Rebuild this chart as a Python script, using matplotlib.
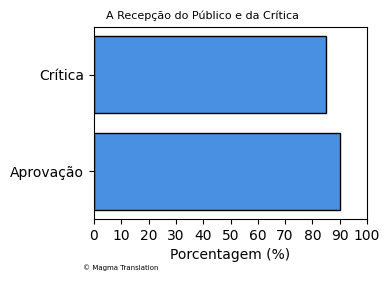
import matplotlib
matplotlib.use("Agg")
import matplotlib.pyplot as plt

categories = ["Aprovação", "Crítica"]
values = [90, 85]
xticks = list(range(0, 101, 10))

fig = plt.figure(figsize=(3.9, 2.82), dpi=100)
ax = fig.add_axes([94/390, 1-219/282, (367-94)/390, (219-27)/282])
ax.barh(categories, values, color="#4A90E2", edgecolor="black", height=0.8)
ax.set_xlim(0, 100)
ax.set_xticks(xticks)
ax.set_xlabel("Porcentagem (%)")
fig.text(106/390, 1-16/282, "A Recepção do Público e da Crítica", fontsize=8, va="center", ha="left")
fig.text(83/390, 1-268/282, "© Magma Translation", fontsize=5, va="center", ha="left")
fig.savefig("out.png", dpi=100)
